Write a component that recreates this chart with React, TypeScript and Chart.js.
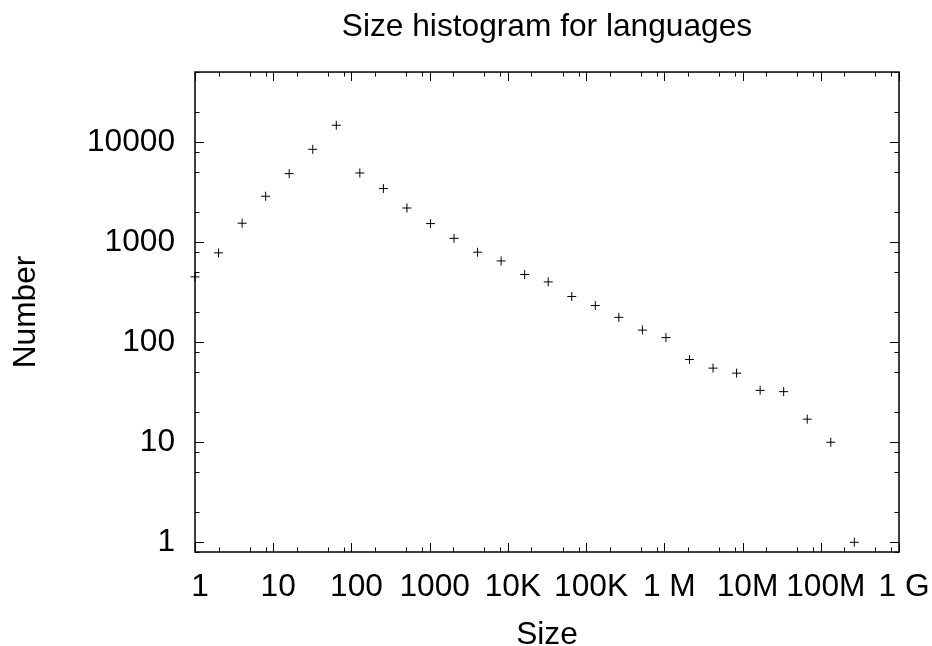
import React, { useEffect, useRef } from 'react';
import { Chart, registerables } from 'chart.js';

Chart.register(...registerables);

const chartTitle = 'Size histogram for languages';
const xAxisTitle = 'Size';
const yAxisTitle = 'Number';

const sizes = [
  1, 2, 4, 8, 16, 32, 64, 128, 256, 512, 1024, 2048, 4096, 8192, 16384, 32768,
  65536, 131072, 262144, 524288, 1048576, 2097152, 4194304, 8388608, 16777216,
  33554432, 67108864, 134217728, 268435456,
];
const counts = [
  449, 780, 1543, 2870, 4830, 8450, 14700, 4900, 3425, 2190, 1530, 1090, 792, 648, 474, 400,
  286, 232, 177, 132, 111, 67, 55, 49, 33, 32, 17, 10, 1,
];

const xTickValues = [1, 10, 100, 1000, 1e4, 1e5, 1e6, 1e7, 1e8, 1e9];
const xTickLabels = ['1', '10', '100', '1000', '10K', '100K', '1 M', '10M', '100M', '1 G'];
const yTickValues = [1, 10, 100, 1000, 10000];
const yTickLabels = ['1', '10', '100', '1000', '10000'];
const minorMultipliers = [2, 5, 8];

const X_MIN = 1;
const X_MAX = 1e9;
const Y_MIN = 0.8;
const Y_MAX = 50000;

const FONT_FAMILY = '"Liberation Sans", Arial, Helvetica, sans-serif';
const FONT_SIZE = 31.7;

const minorValues = (majors: number[], lo: number, hi: number) => {
  const out: number[] = [];
  const decades = [majors[0] / 10, ...majors];
  decades.forEach((d) => {
    minorMultipliers.forEach((m) => {
      const v = d * m;
      if (v >= lo && v <= hi) out.push(v);
    });
  });
  return out;
};

const framePlugin = {
  id: 'gnuFrame',
  afterDatasetsDraw(chart: any) {
    const { ctx, chartArea } = chart;
    const { left, right, top, bottom } = chartArea;
    const xs = chart.scales.x;
    const ys = chart.scales.y;
    const MAJOR = 9;
    const MINOR = 4.5;
    ctx.save();
    ctx.strokeStyle = '#000';
    ctx.lineWidth = 1;
    ctx.beginPath();
    const xTick = (v: number, len: number) => {
      const px = Math.round(xs.getPixelForValue(v)) + 0.5;
      ctx.moveTo(px, bottom);
      ctx.lineTo(px, bottom - len);
      ctx.moveTo(px, top);
      ctx.lineTo(px, top + len);
    };
    const yTick = (v: number, len: number) => {
      const py = Math.round(ys.getPixelForValue(v)) + 0.5;
      ctx.moveTo(left, py);
      ctx.lineTo(left + len, py);
      ctx.moveTo(right, py);
      ctx.lineTo(right - len, py);
    };
    xTickValues.forEach((v) => xTick(v, MAJOR));
    minorValues(xTickValues, X_MIN, X_MAX).forEach((v) => xTick(v, MINOR));
    yTickValues.forEach((v) => yTick(v, MAJOR));
    minorValues(yTickValues, Y_MIN, Y_MAX).forEach((v) => yTick(v, MINOR));
    ctx.stroke();
    ctx.lineWidth = 1.5;
    ctx.strokeRect(left, top, right - left, bottom - top);
    ctx.restore();
  },
};

export default function App() {
  const canvasRef = useRef<HTMLCanvasElement | null>(null);

  useEffect(() => {
    if (!canvasRef.current) return;
    const font = { family: FONT_FAMILY, size: FONT_SIZE };
    const chart = new Chart(canvasRef.current, {
      type: 'scatter',
      data: {
        datasets: [
          {
            data: sizes.map((x, i) => ({ x, y: counts[i] })),
            showLine: false,
            pointStyle: 'cross',
            pointRadius: 4.5,
            pointHoverRadius: 4.5,
            pointBorderColor: '#000',
            pointBackgroundColor: '#000',
            pointBorderWidth: 1,
            clip: false,
          } as any,
        ],
      },
      options: {
        animation: false,
        responsive: false,
        maintainAspectRatio: false,
        devicePixelRatio: 1,
        layout: { padding: { left: 0, right: 33, top: 0, bottom: 0 } },
        plugins: {
          legend: { display: false },
          tooltip: { enabled: false },
          title: {
            display: true,
            fullSize: false,
            text: chartTitle,
            color: '#000',
            font: { ...font, weight: 'normal' },
            padding: { top: 8, bottom: 26 },
          },
        },
        scales: {
          x: {
            type: 'logarithmic',
            position: 'bottom',
            min: X_MIN,
            max: X_MAX,
            bounds: 'data',
            grid: { display: false, drawTicks: false },
            border: { display: false },
            ticks: {
              color: '#000',
              font,
              padding: 16,
              labelOffset: 5,
              autoSkip: false,
              maxRotation: 0,
              callback: (value: any) => {
                const i = xTickValues.indexOf(Number(value));
                return i >= 0 ? xTickLabels[i] : '';
              },
            },
            afterBuildTicks: (s: any) => {
              s.ticks = xTickValues.map((v) => ({ value: v }));
            },
            afterFit: (s: any) => {
              s.height = 94;
              s.paddingLeft = 0;
              s.paddingRight = 0;
            },
            title: {
              display: true,
              text: xAxisTitle,
              color: '#000',
              font: { ...font, lineHeight: 0.8 },
              padding: { top: 0, bottom: -2 },
            },
          } as any,
          y: {
            type: 'logarithmic',
            position: 'left',
            min: Y_MIN,
            max: Y_MAX,
            bounds: 'data',
            grid: { display: false, drawTicks: false },
            border: { display: false },
            ticks: {
              color: '#000',
              font,
              padding: 20,
              autoSkip: false,
              callback: (value: any) => {
                const i = yTickValues.indexOf(Number(value));
                return i >= 0 ? yTickLabels[i] : '';
              },
            },
            afterBuildTicks: (s: any) => {
              s.ticks = yTickValues.map((v) => ({ value: v }));
            },
            afterFit: (s: any) => {
              s.width = 195;
              s.paddingTop = 0;
              s.paddingBottom = 0;
            },
            title: {
              display: true,
              text: yAxisTitle,
              color: '#000',
              font,
              padding: { top: 7, bottom: 0 },
            },
          } as any,
        },
      },
      plugins: [framePlugin],
    });
    return () => chart.destroy();
  }, []);

  return (
    <div style={{ position: 'fixed', left: 0, top: 0, width: 932, height: 646, background: '#fff' }}>
      <canvas ref={canvasRef} width={932} height={646} style={{ display: 'block' }} />
    </div>
  );
}
